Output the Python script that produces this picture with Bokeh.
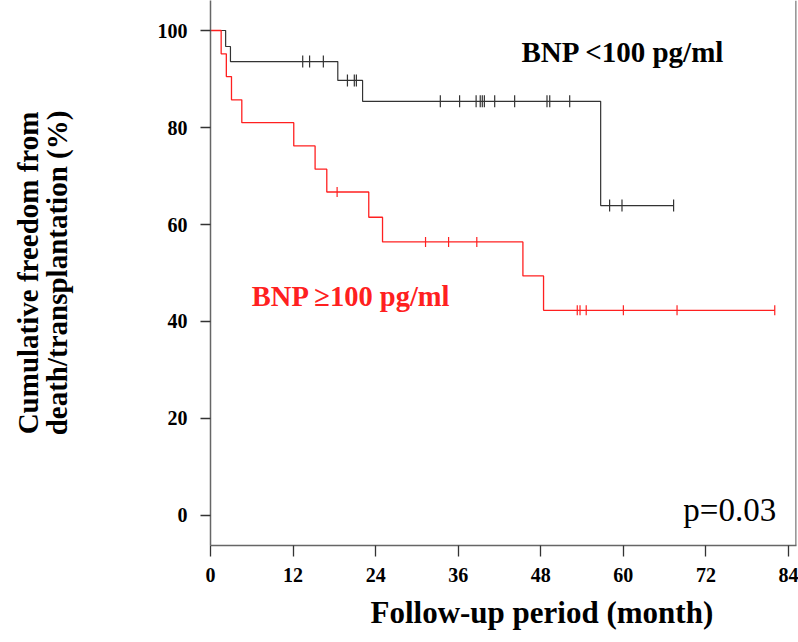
import numpy as np
from bokeh.plotting import figure
from bokeh.models import Range1d, FixedTicker, Label, Span, Title
from bokeh.embed import file_html
from bokeh.resources import INLINE

# ---- data ----
low_times = [0, 2.2, 2.9, 18.5, 22.1, 56.7]
low_surv = [100, 96.7, 93.6, 89.7, 85.4, 63.9]
low_end = 67.3
low_censor = [13.4, 14.4, 16.4, 19.9, 20.9, 21.2, 33.4, 36.2, 38.6, 39.2, 39.5,
              39.8, 41.3, 44.2, 48.9, 49.3, 52.2, 58.0, 59.8, 67.3]

high_times = [0, 1.55, 2.3, 3.05, 4.55, 12.1, 15.2, 16.9, 23.0, 25.0, 45.4, 48.4]
high_surv = [100, 95.2, 90.5, 85.7, 81.0, 76.2, 71.4, 66.7, 61.5, 56.4, 49.4, 42.3]
high_end = 82.0
high_censor = [18.4, 31.25, 34.6, 38.7, 53.3, 53.7, 54.6, 60.0, 67.8, 82.0]

x_ticks = [0, 12, 24, 36, 48, 60, 72, 84]
y_ticks = [0, 20, 40, 60, 80, 100]

label_low = "BNP <100 pg/ml"
label_high = "BNP \u2265100 pg/ml"
p_text = "p=0.03"
x_title = "Follow-up period (month)"
y_title = "Cumulative freedom from\ndeath/transplantation (%)"

SERIF = "Liberation Serif"
BLACK = "#333333"
RED = "#ff2020"

p = figure(width=798, height=642, output_backend="svg", toolbar_location=None,
           x_range=Range1d(0, 85.16), y_range=Range1d(-6.19, 106.19),
           min_border_left=210, min_border_right=2, min_border_top=0,
           min_border_bottom=97)
p.outline_line_color = None
p.xgrid.grid_line_color = None
p.ygrid.grid_line_color = None
p.background_fill_color = "white"
p.border_fill_color = "white"


def surv_at(times, surv, t):
    idx = np.searchsorted(np.array(times), np.array(t), side="right") - 1
    return [surv[i] for i in idx]


def draw(times, surv, end, cens, color, width, tick):
    xs = list(times) + [end]
    ys = list(surv) + [surv[-1]]
    p.step(xs, ys, mode="after", line_color=color, line_width=width)
    p.scatter(cens, surv_at(times, surv, cens), marker="dash", angle=np.pi / 2,
              size=tick, line_color=color, line_width=1.2)


draw(low_times, low_surv, low_end, low_censor, BLACK, 1.2, 12)
draw(high_times, high_surv, high_end, high_censor, RED, 1.3, 10)

# right frame line
p.add_layout(Span(location=85.1, dimension="height", line_color="#666666",
                  line_width=1.5))

for ax in (p.xaxis[0], p.yaxis[0]):
    ax.axis_line_color = "#666666"
    ax.axis_line_width = 1.5
    ax.major_tick_line_color = "#333333"
    ax.major_tick_line_width = 1.3
    ax.major_tick_in = 0
    ax.minor_tick_line_color = None
    ax.major_label_text_font = SERIF
    ax.major_label_text_font_style = "bold"
    ax.major_label_text_font_size = "20px"
    ax.major_label_text_color = "black"

p.xaxis.ticker = FixedTicker(ticks=x_ticks)
p.yaxis.ticker = FixedTicker(ticks=y_ticks)
p.xaxis.major_tick_out = 11
p.xaxis.major_label_standoff = 11
p.yaxis.major_tick_out = 10
p.yaxis.major_label_standoff = 13
p.yaxis.major_label_text_baseline = "top"

p.yaxis.axis_label = y_title
p.yaxis.axis_label_text_font = SERIF
p.yaxis.axis_label_text_font_style = "bold"
p.yaxis.axis_label_text_font_size = "29px"
p.yaxis.axis_label_text_line_height = 0.88
p.yaxis.axis_label_text_color = "black"
p.yaxis.axis_label_standoff = 82

p.add_layout(Title(text=x_title, align="left", offset=160, standoff=16,
                   text_font=SERIF, text_font_style="bold",
                   text_font_size="31px", text_color="black"), "below")

common = dict(text_font=SERIF, text_font_style="bold")
p.add_layout(Label(x=45.2, y=95.5, text=label_low, text_color="black",
                   text_font_size="29px", text_baseline="alphabetic", **common))
p.add_layout(Label(x=6.0, y=45.2, text=label_high, text_color=RED,
                   text_font_size="28.5px", text_baseline="alphabetic", **common))
p.add_layout(Label(x=82.2, y=1.03, text=p_text, text_color="black",
                   text_font=SERIF, text_font_size="33px",
                   text_align="right", text_baseline="alphabetic"))

open("out.html", "w").write(file_html(p, INLINE))
